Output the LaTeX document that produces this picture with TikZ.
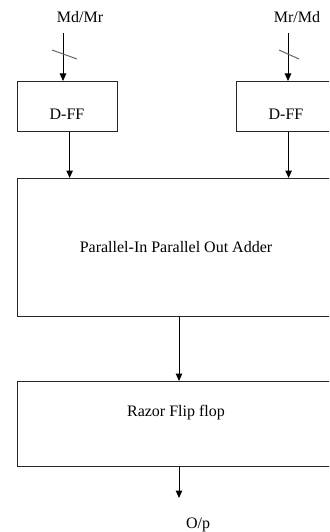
\documentclass[tikz,border=0pt]{standalone}
\usepackage{fontspec}
\setmainfont{Liberation Serif}
\usetikzlibrary{arrows.meta,calc}
\tikzset{
  box/.style={draw=black!85, line width=1.2pt, rectangle, inner sep=0pt, anchor=north west},
  lbl/.style={font=\fontsize{16}{19}\selectfont, inner sep=0pt, text=black},
  arr/.style={line width=1pt, -{Triangle[length=7.5pt,width=6.5pt]}},
  slash/.style={line width=1pt, draw=black!60}
}
\begin{document}
\begin{tikzpicture}[x=1pt,y=-1pt]
\useasboundingbox (0,0) rectangle (329,532);
\clip (0,0) rectangle (329,532);
% boxes
\node[box, minimum width=100pt, minimum height=50pt] (dffL) at (17,81) {};
\node[box, minimum width=100pt, minimum height=50pt] (dffR) at (236,81) {};
\node[box, minimum width=318pt, minimum height=138pt] (adder) at (17,178) {};
\node[box, minimum width=318pt, minimum height=85pt] (razor) at (17,381) {};
% texts
\node[lbl] (tdffL) at (67,114) {D-FF};
\node[lbl] (tdffR) at (286,114) {D-FF};
\node[lbl] (tadder) at (176,247) {Parallel-In Parallel Out Adder};
\node[lbl] (trazor) at (176,413) {Razor Flip flop};
\node[lbl] (inLlbl) at (80,17) {Md/Mr};
\node[lbl] (inRlbl) at (297,17) {Mr/Md};
\node[lbl] (outlbl) at (198,525) {O/p};
% coordinates
\coordinate (inL) at (63,33);
\coordinate (inR) at (288,33);
\coordinate (outEnd) at (179,498);
% arrows
\draw[arr] (inL) -- (inL |- dffL.north);
\draw[arr] (inR) -- (inR |- dffR.north);
\draw[arr] ([xshift=2pt]dffL.south) -- ([xshift=2pt]dffL.south |- adder.north);
\draw[arr] ([xshift=2pt]dffR.south) -- ([xshift=2pt]dffR.south |- adder.north);
\draw[arr] (outEnd |- adder.south) -- (outEnd |- razor.north);
\draw[arr] (outEnd |- razor.south) -- (outEnd);
% bus slashes
\draw[slash] (52,50) -- (77,59);
\draw[slash] (279,50) -- (299,59);
\end{tikzpicture}
\end{document}
